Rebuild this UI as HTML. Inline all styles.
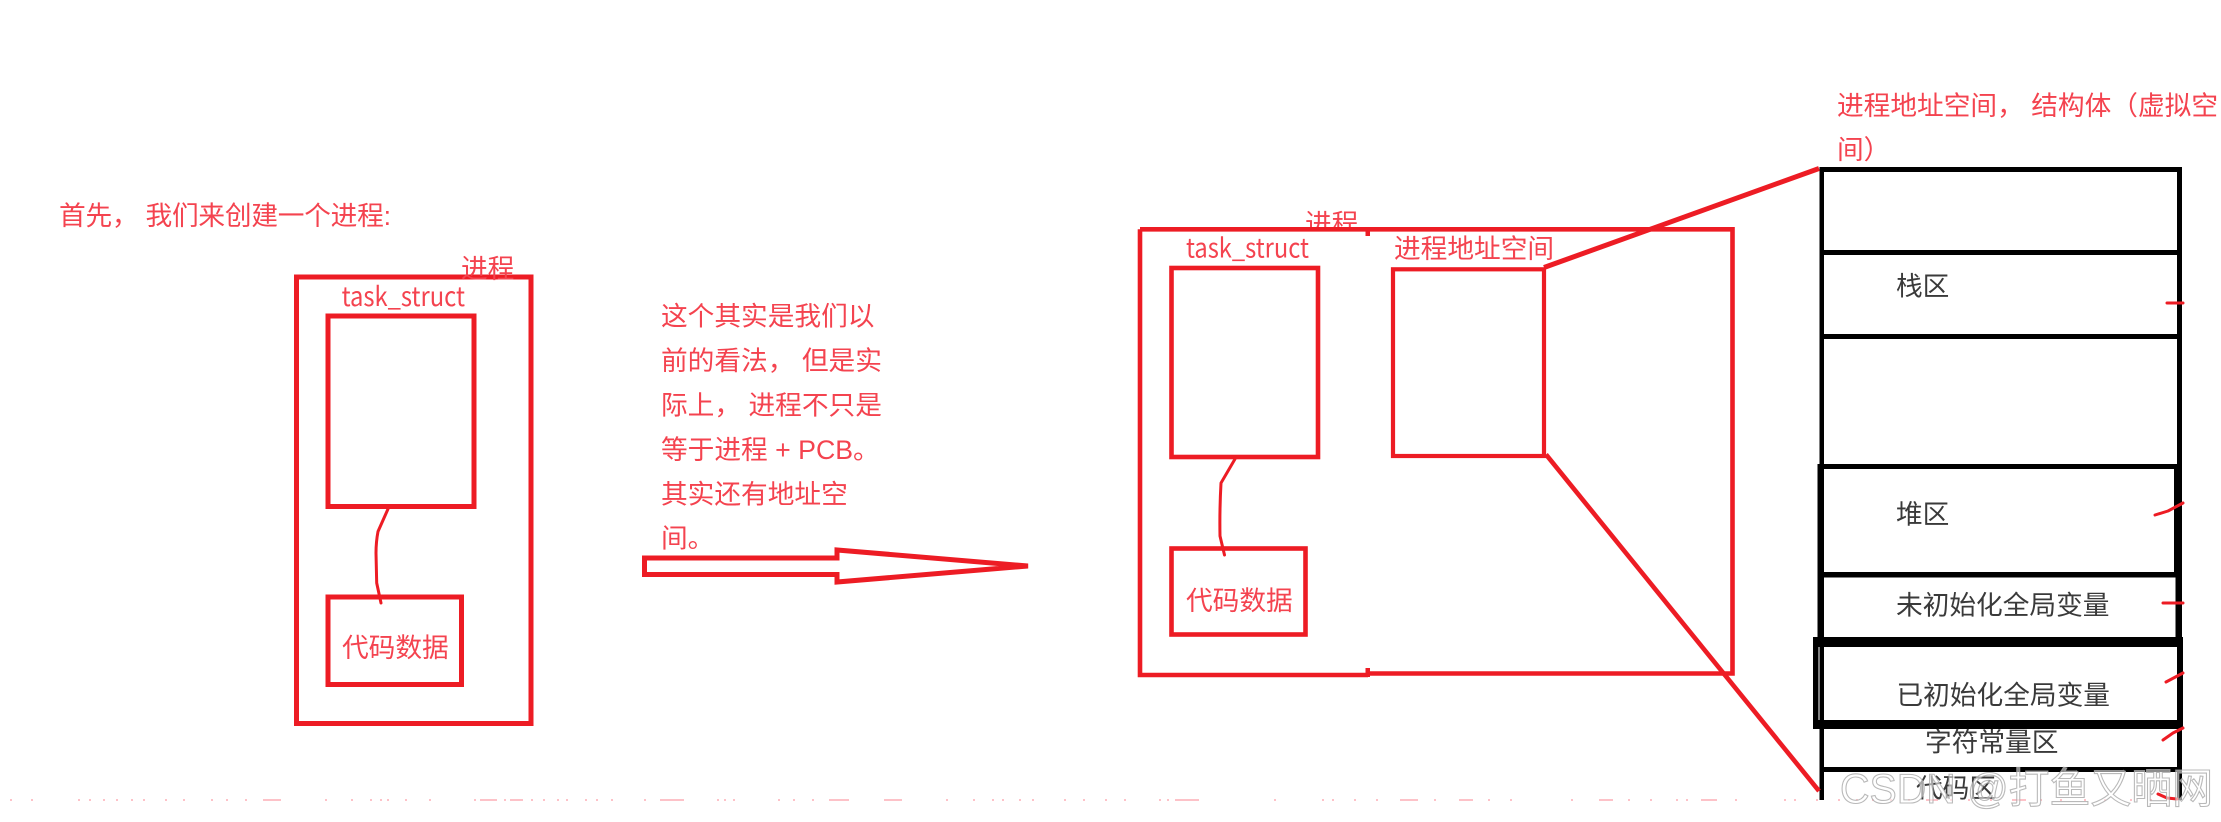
<!DOCTYPE html>
<html><head><meta charset="utf-8"><style>
html,body{margin:0;padding:0;background:#fff;width:2221px;height:822px;overflow:hidden}
svg{display:block}
text{font-family:"Liberation Sans","Noto Sans CJK SC",sans-serif;font-size:26.7px}
.r{fill:#f4434f}
.k{fill:#3a3a3a}
.l{font-family:"Noto Sans CJK SC","Liberation Sans",sans-serif}
.b{fill:none;stroke:#ed1c24;stroke-width:5}
.t{fill:none;stroke:#ed1c24;stroke-width:3;stroke-linecap:round;stroke-linejoin:round}
</style></head><body>
<svg width="2221" height="822" viewBox="0 0 2221 822" xmlns="http://www.w3.org/2000/svg">
<defs><clipPath id="c"><rect x="1290" y="205" width="90" height="26"/></clipPath></defs>
<rect width="2221" height="822" fill="#fff"/>

<!-- left diagram -->
<text class="r" x="59" y="225" textLength="332" lengthAdjust="spacing">首先， 我们来创建一个进程:</text>
<rect class="b" x="296.5" y="277" width="234.5" height="446.5"/>
<rect class="b" x="328" y="316" width="146" height="190.5"/>
<rect class="b" x="328" y="597" width="133.5" height="87.5"/>
<path class="t" d="M388 509 L378 531.5 Q376 542 376 553 L376.7 583 L381 603"/>
<text class="r" x="461" y="278">进程</text>
<text class="r l" x="341.6" y="306" textLength="123.4" lengthAdjust="spacingAndGlyphs">task_struct</text>
<text class="r" x="342" y="657">代码数据</text>

<text class="r" x="661" y="325.5">这个其实是我们以</text>
<text class="r" x="661" y="370">前的看法， 但是实</text>
<text class="r" x="661" y="414.5">际上， 进程不只是</text>
<text class="r" x="661" y="459">等于进程 + PCB。</text>
<text class="r" x="661" y="503.5">其实还有地址空</text>
<text class="r" x="661" y="547.5">间。</text>

<polygon class="b" points="644.5,558 837,558 837,550 1028,566 837,582 837,574.5 644.5,574.5" stroke-linejoin="miter"/>

<!-- middle diagram -->
<text class="r" x="1305" y="233" clip-path="url(#c)">进程</text>
<path fill="none" stroke="#ed1c24" stroke-width="4.6" d="M1140 229.3 H1732.5 V673.5 H1368 M1368 675 H1140 V229.3"/>
<rect x="1365.5" y="230" width="4.5" height="6" fill="#ed1c24"/>
<rect x="1365.5" y="668" width="4.5" height="9" fill="#ed1c24"/>
<rect class="b" x="1171.5" y="268" width="146.5" height="189" style="stroke-width:4.6"/>
<rect class="b" x="1171.5" y="548.5" width="134" height="86" style="stroke-width:4.6"/>
<rect class="b" x="1393" y="269.3" width="151" height="186.7" style="stroke-width:4.2"/>
<path class="t" d="M1235 459 L1221 483 Q1219.5 510 1220 536 L1224.5 555"/>
<text class="r l" x="1186" y="257.5" textLength="123" lengthAdjust="spacingAndGlyphs">task_struct</text>
<text class="r" x="1394" y="258">进程地址空间</text>
<text class="r" x="1186" y="610">代码数据</text>

<!-- right stack -->
<g fill="#000">
<rect x="1819.5" y="167" width="4.5" height="633"/>
<rect x="2177" y="167" width="5" height="633"/>
<rect x="1819.5" y="167" width="362.5" height="5"/>
<rect x="1819.5" y="250" width="362.5" height="5"/>
<rect x="1819.5" y="334" width="362.5" height="5"/>
<rect x="1819.5" y="464" width="362.5" height="5"/>
<rect x="1817.5" y="464" width="6.5" height="173"/>
<rect x="2174" y="464" width="8" height="108"/>
<rect x="1819.5" y="572" width="362.5" height="5.5"/>
<rect x="2175.5" y="572" width="6.5" height="66"/>
<rect x="1813" y="637" width="370" height="10"/>
<rect x="1813" y="637" width="5.5" height="92"/>
<rect x="2177" y="637" width="6" height="92"/>
<rect x="1813" y="720" width="370" height="9"/>
<rect x="1819.5" y="767" width="362.5" height="5"/>
</g>
<text class="r" x="1837" y="115">进程地址空间， 结构体（虚拟空</text>
<text class="r" x="1837" y="159">间）</text>
<text class="k" x="1896" y="295.5">栈区</text>
<text class="k" x="1896" y="523.5">堆区</text>
<text class="k" x="1896" y="614.5">未初始化全局变量</text>
<text class="k" x="1896.5" y="704.5">已初始化全局变量</text>
<text class="k" x="1925" y="751.5">字符常量区</text>
<text class="k" x="1916" y="797.5">代码区</text>

<path fill="none" stroke="#ed1c24" stroke-width="5" d="M1544 267.5 L1819 168.5"/>
<path fill="none" stroke="#ed1c24" stroke-width="4.6" d="M1546 454.5 L1819 791"/>
<path class="t" d="M2167 303 H2183"/>
<path class="t" d="M2155 515 L2168 511 L2183 503"/>
<path class="t" d="M2163 603 H2183"/>
<path class="t" d="M2166 682 L2183 673"/>
<path class="t" d="M2163 740 L2173 733 L2183 728"/>
<path class="t" d="M2158 794 L2167 798 L2177 799"/>

<rect x="0" y="801" width="2221" height="21" fill="#fff"/>
<path fill="none" stroke="#fa6b78" stroke-width="1.6" d="M10 800h2M31 800h2M78 800h2M89 800h2M103 800h2M116 800h2M131 800h2M143 800h2M165 800h2M183 800h2M211 800h2M226 800h2M245 800h2M263 800h18M325 800h2M351 800h2M370 800h2M380 800h2M387 800h2M405 800h2M429 800h2M474 800h2M480 800h17M504 800h2M510 800h13M531 800h2M543 800h2M557 800h2M566 800h2M585 800h2M596 800h2M611 800h2M644 800h2M660 800h24M717 800h2M724 800h2M733 800h2M778 800h2M793 800h2M812 800h2M829 800h20M884 800h18M946 800h2M973 800h2M992 800h2M1002 800h2M1019 800h2M1032 800h2M1064 800h2M1083 800h2M1105 800h2M1124 800h2M1159 800h2M1167 800h2M1175 800h24M1274 800h2M1322 800h2M1332 800h2M1354 800h2M1376 800h2M1400 800h18M1434 800h2M1459 800h14M1488 800h2M1510 800h2M1571 800h2M1599 800h14M1628 800h2M1650 800h2M1676 800h2M1686 800h2M1701 800h16M1735 800h2M1784 800h2M1794 800h2M1816 800h2M1838 800h2M1856 800h2M1872 800h2M1890 800h2M1908 800h2M1926 800h12M1950 800h2M1968 800h2M1990 800h2M2012 800h14M2040 800h2M2060 800h2M2084 800h2M2104 800h2M2130 800h2M2150 800h2" opacity=".55"/>

<text x="1840" y="803" textLength="373" lengthAdjust="spacingAndGlyphs" style="font-size:42px;fill:#fff;fill-opacity:.55;stroke:#a8a8a8;stroke-width:1.1;stroke-opacity:.8">CSDN @打鱼又晒网</text>
</svg>
</body></html>
